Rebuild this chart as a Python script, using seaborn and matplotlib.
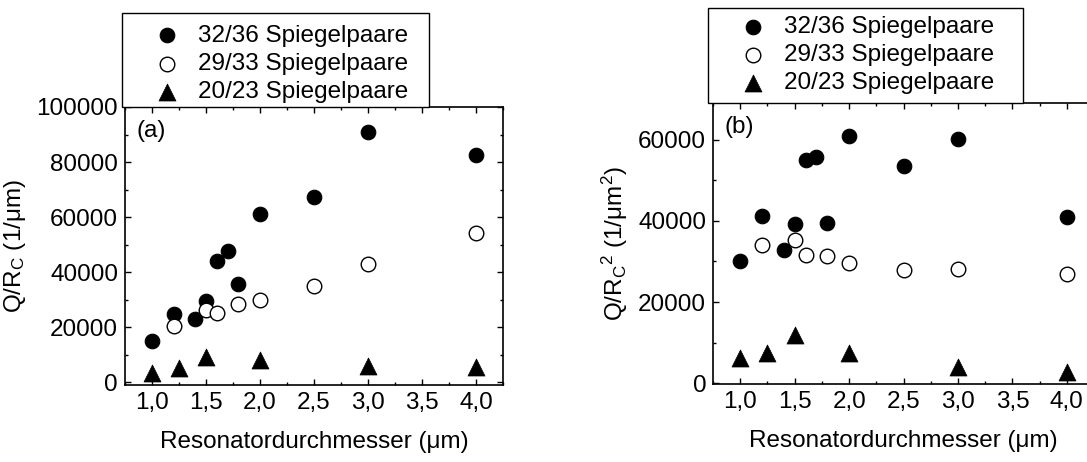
import numpy as np
import pandas as pd
import matplotlib
matplotlib.use("Agg")
import matplotlib.pyplot as plt
import matplotlib.patches as mpatches
import seaborn as sns

# Panel (a): Q/R_C
x_3236_a = [1.0, 1.2, 1.4, 1.5, 1.6, 1.7, 1.8, 2.0, 2.5, 3.0, 4.0]
y_3236_a = [15000, 24700, 22900, 29600, 44100, 47600, 35600, 61100, 67400, 90800, 82500]
x_2933_a = [1.2, 1.5, 1.6, 1.8, 2.0, 2.5, 3.0, 4.0]
y_2933_a = [20500, 26200, 25300, 28500, 29700, 35000, 42800, 54400]
x_2023_a = [1.0, 1.25, 1.5, 2.0, 3.0, 4.0]
y_2023_a = [3500, 5000, 9200, 8000, 5900, 5400]

# Panel (b): Q/R_C^2
x_3236_b = [1.0, 1.2, 1.4, 1.5, 1.6, 1.7, 1.8, 2.0, 2.5, 3.0, 4.0]
y_3236_b = [30000, 41300, 32700, 39200, 55000, 55800, 39400, 60800, 53600, 60200, 40900]
x_2933_b = [1.2, 1.5, 1.6, 1.8, 2.0, 2.5, 3.0, 4.0]
y_2933_b = [34100, 35200, 31700, 31400, 29500, 27800, 28200, 26900]
x_2023_b = [1.0, 1.25, 1.5, 2.0, 3.0, 4.0]
y_2023_b = [6100, 7400, 11800, 7500, 4000, 2800]

labels = ["32/36 Spiegelpaare", "29/33 Spiegelpaare", "20/23 Spiegelpaare"]
x_ticks = [1.0, 1.5, 2.0, 2.5, 3.0, 3.5, 4.0]
x_tick_labels = ["1,0", "1,5", "2,0", "2,5", "3,0", "3,5", "4,0"]
y_ticks_a = [0, 20000, 40000, 60000, 80000, 100000]
y_ticks_b = [0, 20000, 40000, 60000]

sns.set_style("ticks")
plt.rcParams["font.family"] = ["Liberation Sans", "DejaVu Sans"]
plt.rcParams["mathtext.default"] = "regular"
for k in ["text.color", "axes.labelcolor", "xtick.color", "ytick.color", "axes.edgecolor"]:
    plt.rcParams[k] = "black"
fs = 17.5

fig = plt.figure(figsize=(10.87, 4.62), dpi=100)
ax_a = fig.add_axes([0.115, 0.1667, 0.3477, 0.6017])
ax_b = fig.add_axes([0.656, 0.1688, 0.3505, 0.608])

# (axis, series, yticks, ylim, tag, ylabel, legend frame (x, w, h), legend anchor (x, y))
panels = [
    (ax_a, [(x_3236_a, y_3236_a), (x_2933_a, y_2933_a), (x_2023_a, y_2023_a)],
     y_ticks_a, (-1000, 100000), "(a)", r"Q/R$_C$ (1/μm)",
     (-0.008, 307 / 378, 94 / 278), (0.047, 1.155)),
    (ax_b, [(x_3236_b, y_3236_b), (x_2933_b, y_2933_b), (x_2023_b, y_2023_b)],
     y_ticks_b, (-200, 69000), "(b)", r"Q/R$_C$$^2$ (1/μm$^2$)",
     (-0.013, 315 / 381, 95 / 281), (0.042, 1.171)),
]

styles = [
    dict(marker="o", s=110, color="black", edgecolor="black", linewidth=0.8),
    dict(marker="o", s=110, color="white", edgecolor="black", linewidth=1.0),
    dict(marker="^", s=150, color="black", edgecolor="black", linewidth=0.5),
]

for ax, series, yt, ylim, tag, ylab, frame, anchor in panels:
    for (xs, ys), st, lab in zip(series, styles, labels):
        df = pd.DataFrame({"d": xs, "q": ys})
        sns.scatterplot(data=df, x="d", y="q", ax=ax, label=lab, zorder=3, **st)
    ax.set_xlim(0.75, 4.25)
    ax.set_ylim(*ylim)
    ax.set_xticks(x_ticks)
    ax.set_xticklabels(x_tick_labels)
    ax.set_xticks(np.arange(0.75, 4.26, 0.25), minor=True)
    ax.set_yticks(yt)
    ax.set_yticklabels([str(v) for v in yt])
    ax.set_yticks(np.arange(0, ylim[1], 10000), minor=True)
    ax.tick_params(which="both", direction="in", top=True, right=True,
                   labelsize=fs, width=1.0, pad=5)
    ax.tick_params(which="major", length=4.5)
    ax.tick_params(which="minor", length=2.5)
    for sp in ax.spines.values():
        sp.set_linewidth(1.2)
    ax.set_xlabel("Resonatordurchmesser (μm)", fontsize=fs, labelpad=12)
    ax.set_ylabel(ylab, fontsize=fs, labelpad=6)
    ax.text(0.03, 0.915, tag, transform=ax.transAxes, fontsize=fs,
            ha="left", va="center")
    # legend box sits on top of the axes
    fx, fw, fh = frame
    ax.add_patch(mpatches.Rectangle((fx, 1.0), fw, fh, transform=ax.transAxes,
                                    facecolor="white", edgecolor="black",
                                    linewidth=1.0, clip_on=False, zorder=5))
    leg = ax.legend(loc="center left", bbox_to_anchor=anchor, borderaxespad=0,
                    fontsize=fs, frameon=False, handletextpad=0.28,
                    labelspacing=0.25, borderpad=0, handlelength=2.0)
    leg.set_zorder(6)

fig.savefig("out.png", dpi=100)
